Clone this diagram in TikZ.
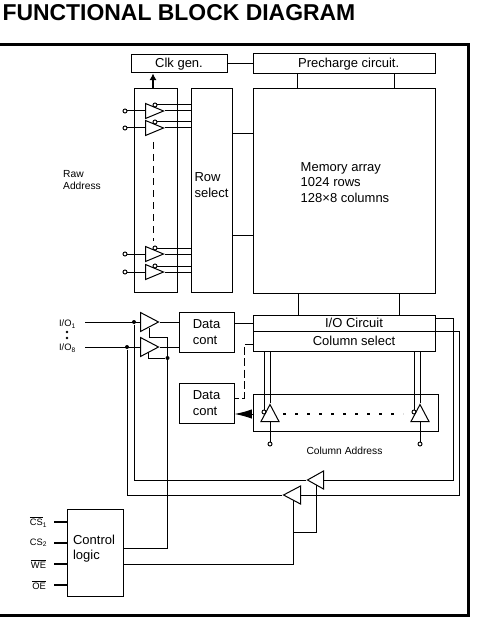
\documentclass[tikz,border=0pt]{standalone}
\usepackage{fontspec}
\setmainfont{Liberation Sans}
\usetikzlibrary{arrows.meta,shapes.geometric}
\tikzset{
  blk/.style={draw,inner sep=0pt,align=left},
  tri/.style={draw,isosceles triangle,isosceles triangle stretches,inner sep=0pt},
  pin/.style={draw,circle,inner sep=0pt,minimum size=3pt,line width=.7pt},
  jn/.style={fill,circle,inner sep=0pt,minimum size=3pt},
  lab/.style={font=\fontsize{7}{9}\selectfont,align=left,inner sep=0pt},
  biglab/.style={font=\fontsize{7.7}{9}\selectfont,align=left,inner sep=0pt},
  txt/.style={align=left,inner sep=0pt},
}
\newcommand{\ovl}[1]{$\overline{\mbox{#1}}$}
\begin{document}
\begin{tikzpicture}[x=.75pt,y=-.75pt,line width=.75pt,font=\fontsize{9.75}{11.5}\selectfont,>=Latex]
\useasboundingbox (0,0) rectangle (476,624);
\node[anchor=base west,inner sep=0pt,font=\fontsize{17.2}{20}\selectfont\bfseries] (title) at (2,20.5) {FUNCTIONAL BLOCK DIAGRAM};
% outer frame
\draw[line width=2.25pt] (0,44.5) -| (468,615) -- (0,615);
% blocks
\node[blk,minimum width=72pt,minimum height=13.5pt] (clk) at (179,64) {Clk gen.};
\node[blk,minimum width=136.5pt,minimum height=15pt] (pre) at (344,64) {\hspace{7pt}Precharge circuit.};
\node[blk,minimum width=136.5pt,minimum height=153pt] (mem) at (344,191) {};
\node[txt] (memtxt) at (345,182.5) {Memory array\\1024 rows\\128×8 columns};
\node[blk,minimum width=32.25pt,minimum height=152.25pt] (raw) at (155.5,190.5) {};
\node[blk,minimum width=30.75pt,minimum height=152.25pt] (row) at (211.5,190.5) {};
\node[txt] (rowtxt) at (211.5,185) {Row\\select};
\node[blk,minimum width=136.5pt,minimum height=12pt] (ioc) at (344,323) {\hspace{15pt}I/O Circuit};
\node[blk,minimum width=136.5pt,minimum height=15pt] (cols) at (344,341) {\hspace{15pt}Column select};
\node[blk,minimum width=41.25pt,minimum height=30pt] (dc1) at (206.5,332) {Data\\cont};
\node[blk,minimum width=41.25pt,minimum height=30pt] (dc2) at (206.5,403) {Data\\cont};
\node[blk,minimum width=138.75pt,minimum height=27.75pt] (colb) at (345.5,412.5) {};
\node[blk,minimum width=42pt,minimum height=65.25pt] (ctl) at (95,552.5) {};
\node[txt] (ctltxt) at (94,548.5) {Control\\logic};
\draw (clk.east) -- (pre.west);
\foreach \x in {297,394} {\coordinate (t) at (\x,0); \draw (pre.south -| t) -- (mem.north -| t);}
\foreach \x in {298,399} {\coordinate (t) at (\x,0); \draw (mem.south -| t) -- (ioc.north -| t);}
\foreach \y in {134,235} {\coordinate (t) at (0,\y); \draw (row.east |- t) -- (mem.west |- t);}
\coordinate (t) at (153,0);
\draw[-{Latex[length=5pt,width=5.5pt]},line width=1.5pt] (raw.north -| t) -- (clk.south -| t);
% row address buffers
\foreach \n/\y in {a/111,b/128,c/254,d/272} {
  \node[tri,minimum width=11.25pt,minimum height=13.5pt,anchor=lower side] (b\n) at (145,\y) {};
  \node[pin] (p\n) at (125,\y) {};
  \node[pin] (e\n) at (155,\y-6) {};
  \draw (p\n) -- (b\n.lower side);
  \draw (b\n.apex) -- (b\n.apex -| row.west);
  \draw (e\n) -- (e\n -| row.west);
}
\coordinate (da) at (153,142); \coordinate (db) at (153,241);
\draw[dash pattern=on 5pt off 4pt] (da) -- (db);
\node[biglab] (rawtxt) at (82,180) {Raw\\Address};
% i/o buffers
\node[tri,minimum width=14.25pt,minimum height=13.5pt,anchor=lower side] (d1) at (140,322) {};
\node[tri,minimum width=14.25pt,minimum height=13.5pt,anchor=lower side] (d8) at (140,347) {};
\node[lab] (io1) at (67.5,324) {I/O\textsubscript{1}};
\node[lab] (io8) at (67.5,348) {I/O\textsubscript{8}};
\node[jn,minimum size=2pt] (dot1) at (67,332) {};
\node[jn,minimum size=2pt] (dot2) at (67,338) {};
\coordinate (in1) at (85,322); \coordinate (in8) at (85,347);
\draw (in1) -- (d1.lower side);
\draw (in8) -- (d8.lower side);
\draw (d1.apex) -- (d1.apex -| dc1.west);
\draw (d8.apex) -- (d8.apex -| dc1.west);
\coordinate (t) at (0,323);
\draw (dc1.east |- t) -- (ioc.west |- t);
% dashed return
\coordinate (ds1) at (244,344); \coordinate (ds2) at (244,398);
\draw[dash pattern=on 6pt off 2.5pt] (cols.west |- ds1) -- (ds1) -- (ds2) -- (dc2.east |- ds2);
% column buffers
\foreach \n/\x in {l/270,r/420} {
  \node[tri,shape border rotate=90,minimum width=13.5pt,minimum height=12.75pt,anchor=lower side] (c\n) at (\x,422) {};
  \node[pin] (q\n) at (\x-6,412) {};
  \node[pin] (k\n) at (\x,444) {};
  \draw (q\n) -- (q\n |- cols.south);
  \draw (c\n.apex) -- (c\n.apex |- cols.south);
  \draw (c\n.lower side) -- (k\n);
}
\coordinate (dl) at (283,414); \coordinate (dr) at (403,414);
\draw[line width=1.5pt,dash pattern=on 2pt off 7pt] (dl) -- (dr);
\coordinate (t) at (0,414);
\draw[-{Latex[length=13pt,width=7pt]}] (colb.west |- t) -- (dc2.east |- t);
\node[biglab] (coltxt) at (344.5,451) {Column Address};
% output enable
\node[tri,shape border rotate=180,minimum width=13.5pt,minimum height=12pt,anchor=lower side] (ta) at (324,480) {};
\node[tri,shape border rotate=180,minimum width=13.5pt,minimum height=12.75pt,anchor=lower side] (tb) at (301,495) {};
\node[jn] (j1) at (134,322) {};
\node[jn] (j8) at (127,347) {};
\node[jn] (j3) at (167.5,358) {};
\draw (j1) |- (ta.apex);
\draw (j8) |- (tb.apex);
\coordinate (r1) at (453,318); \coordinate (r2) at (459,331);
\draw (ta.lower side) -| (r1) -- (ioc.east |- r1);
\draw (tb.lower side) -| (r2) -- (ioc.east |- r2);
% control logic wires
\coordinate (en1) at (149,328); \coordinate (en8) at (148,352);
\coordinate (cl1) at (167.5,337); \coordinate (cl2) at (0,548);
\draw (en1) |- (cl1) |- (ctl.east |- cl2);
\draw (en8) |- (j3);
\coordinate (lo) at (0,564); \coordinate (br) at (0,532);
\coordinate (tbe) at (293,500); \coordinate (tae) at (316,485);
\draw (ctl.east |- lo) -| (tbe);
\draw (tbe |- br) -| (tae);
% control inputs
\foreach \n/\y/\l/\t in {c1/522/\ovl{CS}\textsubscript{1}/38.5,c2/543/CS\textsubscript{2}/38.5,we/564/\ovl{WE}/38.5,oe/585/\ovl{OE}/39} {
  \node[lab] (l\n) at (\t,\y) {\l};
  \coordinate (s\n) at (54,\y);
  \draw[line width=1.5pt] (s\n) -- (ctl.west |- s\n);
}
\end{tikzpicture}
\end{document}
